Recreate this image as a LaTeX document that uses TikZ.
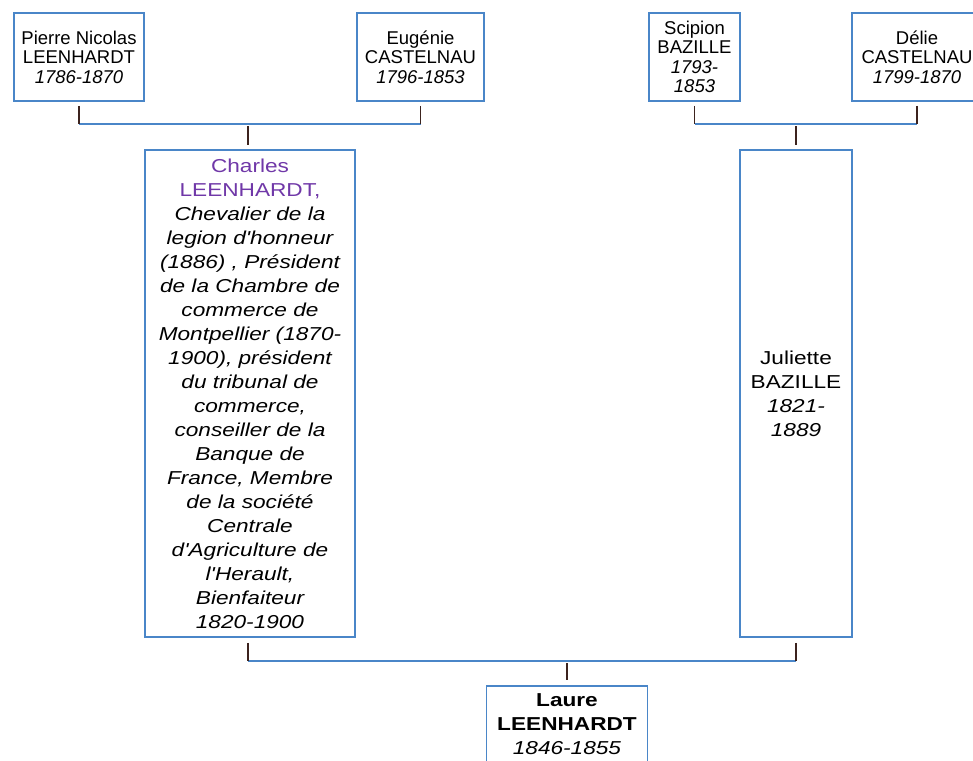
\documentclass[tikz,border=0pt]{standalone}
\usepackage{fontspec}
\setmainfont{Liberation Sans}
\newfontfamily\widefont[FakeStretch=1.21,Ligatures=TeXOff]{Liberation Sans}
\usetikzlibrary{calc}
\definecolor{boxblue}{RGB}{74,134,200}
\definecolor{tickc}{RGB}{60,35,30}
\definecolor{nameviolet}{RGB}{112,56,168}
\newcommand{\smallfam}{\fontsize{18.5}{19.5}\selectfont}
\newcommand{\bigfam}{\widefont\fontsize{18.7}{24}\selectfont}
\begin{document}
\begin{tikzpicture}[x=1pt,y=-1pt,
  person/.style={draw=boxblue, line width=1.6pt, fill=white, align=center, inner sep=0pt},
  smallbox/.style={person, font=\smallfam},
  bigbox/.style={person, font=\bigfam},
  bar/.style={draw=boxblue, line width=1.6pt},
  tickline/.style={draw=tickc, line width=1.4pt}]
\useasboundingbox (0,0) rectangle (973,760);
\fill[white] (0,0) rectangle (973,760);
\clip (0,0) rectangle (973,760);

% generation 1
\node[smallbox, minimum width=130pt, minimum height=88pt] (pierre) at (79,57)
  {Pierre Nicolas\\LEENHARDT\\\textit{1786-1870}};
\node[smallbox, minimum width=127pt, minimum height=88pt] (eugenie) at (420.5,57)
  {Eugénie\\CASTELNAU\\\textit{1796-1853}};
\node[smallbox, minimum width=91pt, minimum height=88pt] (scipion) at (694.5,57)
  {Scipion\\BAZILLE\\\textit{1793-}\\\textit{1853}};
\node[smallbox, minimum width=130pt, minimum height=88pt] (delie) at (917,57)
  {Délie\\CASTELNAU\\\textit{1799-1870}};

% generation 2
\node[bigbox, font={\bigfam\itshape}, minimum width=210pt, minimum height=487pt] (charles) at (250,393.5)
  {\textup{\textcolor{nameviolet}{Charles}}\\
   \textup{\textcolor{nameviolet}{LEENHARDT,}}\\
   Chevalier de la\\
   legion d'honneur\\
   (1886) , Président\\
   de la Chambre de\\
   commerce de\\
   Montpellier (1870-\\
   1900), président\\
   du tribunal de\\
   commerce,\\
   conseiller de la\\
   Banque de\\
   France, Membre\\
   de la société\\
   Centrale\\
   d'Agriculture de\\
   l'Herault,\\
   Bienfaiteur\\
   1820-1900};
\node[bigbox, minimum width=112pt, minimum height=487pt] (juliette) at (796,393.5)
  {Juliette\\BAZILLE\\\textit{1821-}\\\textit{1889}};

% generation 3
\node[bigbox, minimum width=161pt, minimum height=76pt] (laure) at (567,724)
  {\textbf{Laure}\\\textbf{LEENHARDT}\\\textit{1846-1855}};

% couple 1
\coordinate (m1) at ($(pierre.south)+(0,22)$);
\coordinate (m1r) at (eugenie.south |- m1);
\draw[bar] (m1) -- (m1r);
\draw[tickline] ($(pierre.south)+(0,4)$) -- (m1);
\draw[tickline] ($(eugenie.south)+(0,4)$) -- (m1r);
\draw[tickline] ($(charles.north)+(-2,-23)$) -- ($(charles.north)+(-2,-4)$);

% couple 2
\coordinate (m2) at ($(scipion.south)+(0,22)$);
\coordinate (m2r) at (delie.south |- m2);
\draw[bar] (m2) -- (m2r);
\draw[tickline] ($(scipion.south)+(0,4)$) -- (m2);
\draw[tickline] ($(delie.south)+(0,4)$) -- (m2r);
\draw[tickline] ($(juliette.north)+(0,-23)$) -- ($(juliette.north)+(0,-4)$);

% couple 3
\coordinate (m3) at ($(charles.south)+(-2,23)$);
\coordinate (m3r) at (juliette.south |- m3);
\draw[bar] (m3) -- (m3r);
\draw[tickline] ($(charles.south)+(-2,5)$) -- (m3);
\draw[tickline] ($(juliette.south)+(0,5)$) -- (m3r);
\draw[tickline] ($(laure.north)+(0,-22)$) -- ($(laure.north)+(0,-5)$);
\end{tikzpicture}
\end{document}
